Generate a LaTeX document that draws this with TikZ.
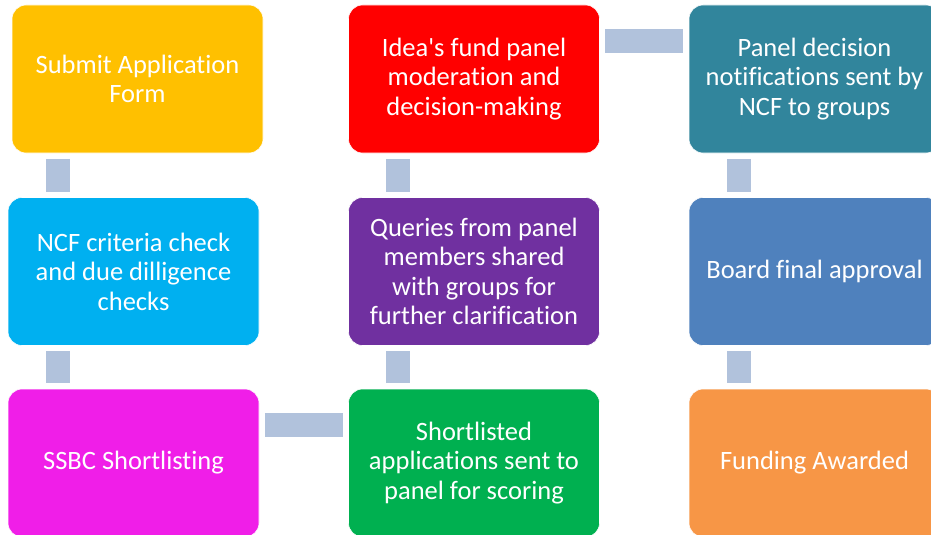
\documentclass[tikz,border=0pt]{standalone}
\usepackage{fontspec}
\newfontfamily\boxfont{Carlito}[Ligatures=NoCommon]
\definecolor{stageyellow}{HTML}{FFC000}
\definecolor{stagecyan}{HTML}{00B0F0}
\definecolor{stagemagenta}{HTML}{F01EE8}
\definecolor{stagegreen}{HTML}{00B050}
\definecolor{stagepurple}{HTML}{7030A0}
\definecolor{stagered}{HTML}{FF0000}
\definecolor{stageteal}{HTML}{31859C}
\definecolor{stageblue}{HTML}{4F81BD}
\definecolor{stageorange}{HTML}{F79646}
\definecolor{connblue}{HTML}{B1C2DC}
\begin{document}
\begin{tikzpicture}[x=1pt,y=-1pt,
  stage/.style={rounded corners=14pt, minimum width=251pt, minimum height=148pt,
    text=white, align=center, inner sep=0pt, draw=white, line width=0.6pt,
    font=\boxfont\fontsize{26.5}{29.5}\selectfont},
  conn/.style={draw=connblue, line width=24pt, shorten <=5.5pt, shorten >=5.5pt}]
\useasboundingbox (0,0) rectangle (931,535);
\clip (0,0) rectangle (931,535);

% first column
\node[stage, fill=stageyellow]  (s1) at (137.5,79)  {Submit Application\\Form};
\node[stage, fill=stagecyan]    (s2) at (133.5,271.5) {NCF criteria check\\and due dilligence\\checks};
\node[stage, fill=stagemagenta] (s3) at (133.5,463) {SSBC Shortlisting};
% second column
\node[stage, fill=stagegreen]   (s4) at (474,463)   {Shortlisted\\applications sent to\\panel for scoring};
\node[stage, fill=stagepurple]  (s5) at (474,271.5) {Queries from panel\\members shared\\with groups for\\further clarification};
\node[stage, fill=stagered]     (s6) at (474,79)    {Idea's fund panel\\moderation and\\decision-making};
% third column
\node[stage, fill=stageteal]    (s7) at (814.5,79)    {Panel decision\\notifications sent by\\NCF to groups};
\node[stage, fill=stageblue]    (s8) at (814.5,271.5) {Board final approval};
\node[stage, fill=stageorange]  (s9) at (814.5,463)   {Funding Awarded};

% connecting bars
\draw[conn] ([xshift=50pt]s2.north west |- s1.south) -- ([xshift=50pt]s2.north west);
\draw[conn] ([xshift=50pt]s2.south west) -- ([xshift=50pt]s2.south west |- s3.north);
\draw[conn] ([yshift=-36pt]s3.north east) -- ([yshift=-36pt]s3.north east -| s4.west);
\draw[conn] ([xshift=50pt]s4.north west) -- ([xshift=50pt]s4.north west |- s5.south);
\draw[conn] ([xshift=50pt]s5.north west) -- ([xshift=50pt]s5.north west |- s6.south);
\draw[conn] ([yshift=-36pt]s6.north east) -- ([yshift=-36pt]s6.north east -| s7.west);
\draw[conn] ([xshift=50pt]s7.south west) -- ([xshift=50pt]s7.south west |- s8.north);
\draw[conn] ([xshift=50pt]s8.south west) -- ([xshift=50pt]s8.south west |- s9.north);
\end{tikzpicture}
\end{document}
